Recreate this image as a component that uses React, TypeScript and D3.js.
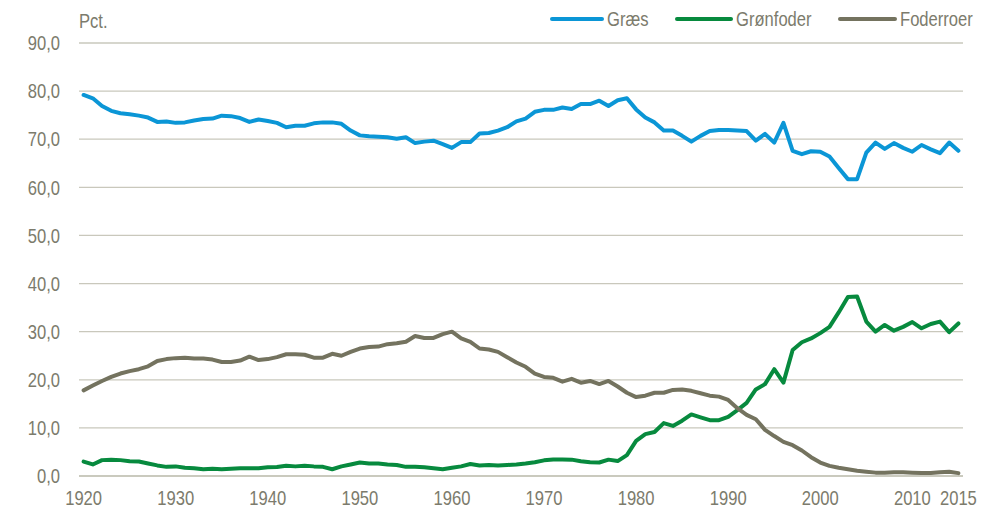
import React from "react";
import * as d3 from "d3";

const years: number[] = d3.range(1920, 2016);

const graes: number[] = [
  79.2, 78.5, 76.9, 75.9, 75.4, 75.2, 74.9, 74.5, 73.6, 73.7,
  73.4, 73.5, 73.9, 74.2, 74.3, 74.9, 74.8, 74.4, 73.6, 74.1,
  73.8, 73.4, 72.5, 72.8, 72.8, 73.3, 73.5, 73.5, 73.2, 71.8,
  70.8, 70.6, 70.5, 70.4, 70.1, 70.4, 69.2, 69.5, 69.7, 69.0,
  68.2, 69.4, 69.4, 71.2, 71.3, 71.8, 72.5, 73.7, 74.3, 75.7,
  76.1, 76.1, 76.6, 76.3, 77.3, 77.3, 78.0, 76.9, 78.1, 78.5,
  76.2, 74.5, 73.5, 71.8, 71.8, 70.7, 69.5, 70.7, 71.7, 71.9,
  71.9, 71.8, 71.7, 69.7, 71.1, 69.3, 73.4, 67.6, 66.9, 67.5,
  67.4, 66.4, 64.0, 61.7, 61.7, 67.2, 69.3, 68.0, 69.2, 68.2,
  67.4, 68.8, 67.9, 67.1, 69.3, 67.6,
];

const gronfoder: number[] = [
  3.0, 2.4, 3.3, 3.4, 3.3, 3.05, 3.0, 2.6, 2.2, 1.9,
  2.0, 1.7, 1.6, 1.4, 1.5, 1.4, 1.5, 1.6, 1.6, 1.6,
  1.8, 1.85, 2.15, 2.0, 2.15, 2.0, 1.9, 1.4, 2.0, 2.4,
  2.8, 2.6, 2.6, 2.4, 2.3, 1.9, 1.9, 1.8, 1.6, 1.4,
  1.7, 2.0, 2.5, 2.2, 2.3, 2.2, 2.3, 2.4, 2.6, 2.85,
  3.25, 3.45, 3.45, 3.4, 3.05, 2.85, 2.8, 3.4, 3.1, 4.35,
  7.3, 8.7, 9.15, 11.0, 10.4, 11.5, 12.8, 12.2, 11.6, 11.6,
  12.3, 13.7, 15.2, 18.0, 19.1, 22.2, 19.4, 26.2, 27.8, 28.6,
  29.7, 31.0, 34.0, 37.2, 37.3, 32.1, 30.0, 31.4, 30.2, 31.0,
  32.0, 30.7, 31.6, 32.1, 29.9, 31.7,
];

const foderroer: number[] = [
  17.8, 18.8, 19.75, 20.6, 21.3, 21.8, 22.2, 22.8, 23.9, 24.3,
  24.5, 24.6, 24.4, 24.4, 24.2, 23.7, 23.7, 24.0, 24.8, 24.1,
  24.3, 24.7, 25.3, 25.3, 25.2, 24.6, 24.6, 25.4, 25.0, 25.8,
  26.5, 26.8, 26.9, 27.4, 27.6, 27.9, 29.1, 28.7, 28.7, 29.5,
  30.0, 28.6, 27.9, 26.5, 26.3, 25.8, 24.7, 23.6, 22.7, 21.3,
  20.6, 20.4, 19.6, 20.2, 19.4, 19.75, 19.1, 19.75, 18.6, 17.3,
  16.4, 16.7, 17.3, 17.3, 17.9, 18.0, 17.7, 17.2, 16.7, 16.5,
  15.8, 14.1, 12.7, 11.8, 9.6, 8.3, 7.1, 6.4, 5.3, 3.9,
  2.8, 2.1, 1.7, 1.4, 1.1, 0.9, 0.7, 0.7, 0.8, 0.8,
  0.7, 0.6, 0.6, 0.8, 0.9, 0.6,
];

const yTicks: number[] = [0, 10, 20, 30, 40, 50, 60, 70, 80, 90];
const xTickYears: number[] = [1920, 1930, 1940, 1950, 1960, 1970, 1980, 1990, 2000, 2010, 2015];

const seriesNames: string[] = ["Græs", "Grønfoder", "Foderroer"];
const seriesColors: string[] = ["#0b96d6", "#078a3e", "#74735f"];

const W = 989;
const H = 512;
const FONT = "'Liberation Sans Narrow', 'Arial Narrow', 'Liberation Sans', sans-serif";
const TEXT = "#7c7b6c";
const FS = 20;
const SX = 0.83;

type NTextProps = {
  x: number;
  y: number;
  anchor?: "start" | "middle" | "end";
  dy?: string;
  children: React.ReactNode;
};

function NText({ x, y, anchor = "start", dy, children }: NTextProps) {
  return (
    <text
      transform={`translate(${x},${y}) scale(${SX},1)`}
      dy={dy}
      textAnchor={anchor}
      fontFamily={FONT}
      fontSize={FS}
      fill={TEXT}
    >
      {children}
    </text>
  );
}

export default function App() {
  const left = 79;
  const right = 963;
  const top = 43;
  const bottom = 476;

  const x = d3
    .scaleBand<number>()
    .domain(years)
    .range([left, right]);
  const cx = (yr: number) => (x(yr) as number) + x.bandwidth() / 2;
  const y = d3.scaleLinear().domain([0, 90]).range([bottom, top]);

  const line = d3
    .line<number>()
    .x((_, i) => cx(years[i]))
    .y((d) => y(d));

  const data = [graes, gronfoder, foderroer];
  const legendX = [552, 677, 840];
  const legendW = [50, 54, 55];

  return (
    <svg width={W} height={H} style={{ position: "absolute", left: 0, top: 0 }}>
      <rect width={W} height={H} fill="#ffffff" />
      {yTicks.map((t) => (
        <g key={t}>
          <line
            x1={left}
            x2={right}
            y1={y(t)}
            y2={y(t)}
            stroke={t === 0 ? "#b9b8a8" : "#c9c8bc"}
            strokeWidth={1.3}
          />
          <NText x={60} y={y(t)} dy="0.36em" anchor="end">
            {d3.format(".1f")(t).replace(".", ",")}
          </NText>
        </g>
      ))}
      {xTickYears.map((yr) => (
        <NText key={yr} x={cx(yr)} y={505} anchor="middle">
          {yr}
        </NText>
      ))}
      <NText x={79} y={28}>
        Pct.
      </NText>
      {data.map((d, i) => (
        <path
          key={i}
          d={line(d) || ""}
          fill="none"
          stroke={seriesColors[i]}
          strokeWidth={4}
          strokeLinejoin="round"
          strokeLinecap="round"
        />
      ))}
      {seriesNames.map((n, i) => (
        <g key={n}>
          <line
            x1={legendX[i]}
            x2={legendX[i] + legendW[i]}
            y1={19}
            y2={19}
            stroke={seriesColors[i]}
            strokeWidth={4}
            strokeLinecap="round"
          />
          <NText x={legendX[i] + legendW[i] + 5} y={19} dy="0.36em">
            {n}
          </NText>
        </g>
      ))}
    </svg>
  );
}
